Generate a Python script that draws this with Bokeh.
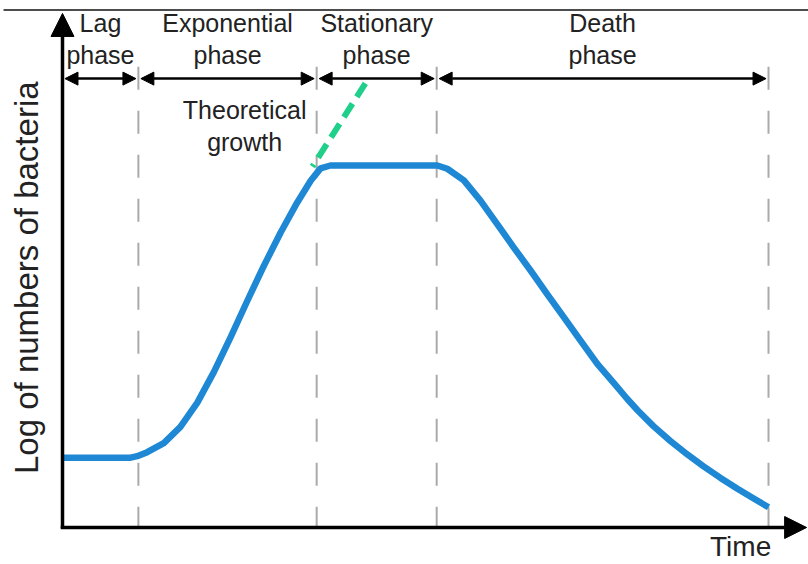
import numpy as np
from bokeh.plotting import figure
from bokeh.models import Range1d, Arrow, NormalHead, ColumnDataSource
from bokeh.core.properties import value
from bokeh.embed import file_html
from bokeh.resources import INLINE

# ---------------- data ----------------
phase_names = ["Lag", "Exponential", "Stationary", "Death"]
phase_word = "phase"
phase_bounds = [0.0, 2.15, 7.2, 10.6, 20.0]

time = [0.0, 1.93, 2.15, 2.40, 2.87, 3.34, 3.82, 4.29, 4.76, 5.23, 5.70,
        6.18, 6.65, 7.03, 7.31, 7.59, 10.62, 10.90, 11.37, 11.84, 12.31,
        12.78, 13.26, 13.73, 14.20, 14.67, 15.15, 15.62, 16.00, 16.29,
        16.74, 17.22, 17.71, 18.16, 18.64, 19.12, 19.58, 20.0]
log_n = [1.93, 1.93, 1.98, 2.08, 2.33, 2.78, 3.45, 4.30, 5.25, 6.25, 7.22,
         8.15, 8.98, 9.58, 9.92, 10.0, 10.0, 9.91, 9.59, 9.03, 8.39,
         7.74, 7.10, 6.45, 5.81, 5.17, 4.52, 3.99, 3.55, 3.24,
         2.80, 2.39, 2.01, 1.69, 1.37, 1.07, 0.80, 0.56]

theo_time = [8.58, 7.08]
theo_log_n = [12.27, 9.97]
theo_label = ["Theoretical", "growth"]

x_title = "Time"
y_title = "Log of numbers of bacteria"

# ---------------- figure ----------------
FONT = value("Liberation Sans")
TXT = "#222222"
DY = 0.276  # compensation for rendered baseline offset

p = figure(width=808, height=564,
           x_range=Range1d(-1.7564, 21.133), y_range=Range1d(-1.022, 14.558),
           x_axis_type=None, y_axis_type=None,
           output_backend="svg", toolbar_location=None, min_border=0)
p.grid.visible = False
p.outline_line_color = None
p.background_fill_color = "white"
p.border_fill_color = "white"

# top rule (page border)
p.segment(x0=[-1.67], y0=[14.296], x1=[21.2], y1=[14.296], line_color="#111111", line_width=1.5)

# dashed phase boundaries
bx = phase_bounds[1:]
p.segment(x0=bx, y0=[12.73] * len(bx), x1=bx, y1=[0.0] * len(bx),
          line_color="#aaaaaa", line_width=2, line_dash="23 21")

# theoretical growth (green dashed)
p.line(theo_time, theo_log_n, line_color="#1fcf8a", line_width=6, line_dash="16 8")

# growth curve
p.line(time, log_n, line_color="#1e88d4", line_width=6.5, line_join="round")

# axes as arrows
p.add_layout(Arrow(end=NormalHead(size=23, fill_color="black", line_color="black"),
                   x_start=0.0, y_start=-0.03, x_end=0.0, y_end=14.2,
                   line_color="black", line_width=3.5))
p.add_layout(Arrow(end=NormalHead(size=22, fill_color="black", line_color="black"),
                   x_start=-0.05, y_start=0.0, x_end=21.08, y_end=0.0,
                   line_color="black", line_width=3.5))

# phase arrows
gap = 0.07
arr = ColumnDataSource(dict(
    x0=[a + gap for a in phase_bounds[:-1]],
    x1=[b - gap for b in phase_bounds[1:]],
    y=[12.40] * len(phase_names)))
p.add_layout(Arrow(start=NormalHead(size=13, fill_color="black", line_color="black"),
                   end=NormalHead(size=13, fill_color="black", line_color="black"),
                   x_start="x0", y_start="y", x_end="x1", y_end="y", source=arr,
                   line_color="black", line_width=2.5))

# phase labels
mids = [(a + b) / 2 for a, b in zip(phase_bounds[:-1], phase_bounds[1:])]
p.text(x=mids, y=[13.65 + DY] * len(mids), text=phase_names, text_font=FONT,
       text_font_size="25px", text_align="center", text_baseline="alphabetic",
       text_color=TXT)
p.text(x=mids, y=[12.79 + DY] * len(mids), text=[phase_word] * len(mids), text_font=FONT,
       text_font_size="25px", text_align="center", text_baseline="alphabetic",
       text_color=TXT)

# theoretical label
p.text(x=[5.16, 5.16], y=[11.27 + DY, 10.36 + DY], text=theo_label, text_font=FONT,
       text_font_size="25px", text_align="center", text_baseline="alphabetic",
       text_color=TXT)

# axis titles
p.text(x=[-1.02], y=[6.9], text=[y_title], angle=np.pi / 2, text_font=FONT,
       text_font_size="33px", text_align="center", text_baseline="alphabetic",
       text_color=TXT)
p.text(x=[19.21], y=[-0.80 + DY], text=[x_title], text_font=FONT,
       text_font_size="28px", text_align="center", text_baseline="alphabetic",
       text_color=TXT)

open("out.html", "w").write(file_html(p, INLINE))
